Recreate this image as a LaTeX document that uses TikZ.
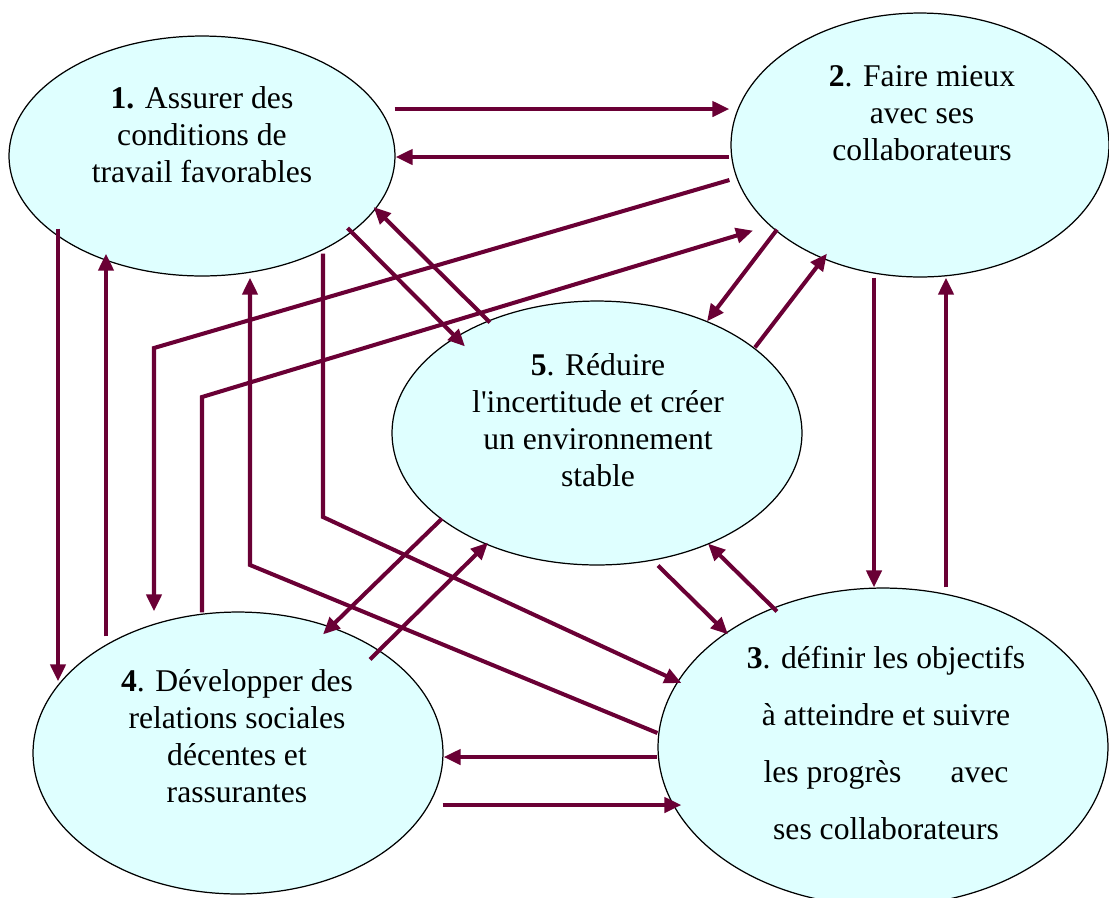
\documentclass[tikz,border=0pt]{standalone}
\usepackage{fontspec}
\setmainfont{Liberation Serif}
\usetikzlibrary{shapes.geometric,arrows.meta}
\definecolor{linkred}{RGB}{106,0,53}
\definecolor{cellfill}{RGB}{223,255,255}

\begin{document}
\begin{tikzpicture}[x=0.02cm,y=-0.02cm,
    ell/.style={ellipse,draw=black,line width=0.7pt,fill=cellfill,inner sep=0pt},
    txt/.style={align=center,font=\fontsize{18}{21}\selectfont},
    link/.style={draw=linkred,line width=2.3pt,-{Triangle[length=0.34cm,width=0.3cm]}}]
    \useasboundingbox (0,0) rectangle (1109,897);

    % draw the five ellipses
    \node[ell,minimum width=7.72cm,minimum height=4.8cm] (e1) at (202,156) {};
    \node[ell,minimum width=7.56cm,minimum height=5.28cm] (e2) at (920,145) {};
    \node[ell,minimum width=8.2cm,minimum height=5.28cm] (e5) at (597,433) {};
    \node[ell,minimum width=8.2cm,minimum height=5.64cm] (e4) at (238,753) {};
    \node[ell,minimum width=9cm,minimum height=6.36cm] (e3) at (883,747) {};

    % the texts sit a bit above the centres
    \node[txt] (t1) at ([shift={(0,-21)}]e1.center) {\textbf{1.} Assurer des\\conditions de\\travail favorables};
    \node[txt] (t2) at ([shift={(2,-32)}]e2.center) {\textbf{2}. Faire mieux\\avec ses\\collaborateurs};
    \node[txt] (t5) at ([shift={(1,-13)}]e5.center) {\textbf{5}. Réduire\\l\textquotesingle incertitude et créer\\un environnement\\stable};
    \node[txt] (t4) at ([shift={(-1,-17)}]e4.center) {\textbf{4}. Développer des\\relations sociales\\décentes et\\rassurantes};
    \node[txt,font=\fontsize{18}{32.5}\selectfont] (t3) at ([shift={(3,-4)}]e3.center)
        {\textbf{3}. définir les objectifs\\à atteindre et suivre\\les progrès\hspace{28pt}avec\\ses collaborateurs};

    % between 1 and 2
    \draw[link] ([shift={(-1,-47)}]e1.east) -- ([shift={(-1,-36)}]e2.west);
    \draw[link] ([shift={(-1,12)}]e2.west) -- ([shift={(0,1)}]e1.east);

    % left side, between 1 and 4
    \draw[link] ([shift={(-144,-48)}]e1.south) -- ([shift={(-180,70)}]e4.north);
    \draw[link] ([shift={(-132,25)}]e4.north) -- ([shift={(-96,-23)}]e1.south);

    % 2 and 4, round the left
    \draw[link] ([shift={(-1,35)}]e2.west) -- (154,348) -- ([shift={(-84,0)}]e4.north);
    \draw[link] ([shift={(-36,1)}]e4.north) -- (202,397) -- ([shift={(-167,-47)}]e2.south);

    % 1 and 3
    \draw[link] ([shift={(121,-23)}]e1.south) -- (323,517) -- ([shift={(24,-64)}]e3.west);
    \draw[link] ([shift={(0,-14)}]e3.west) -- (250,565) -- ([shift={(48,1)}]e1.south);

    % 1 and 5
    \draw[link] ([shift={(-48,72)}]e1.east) -- ([shift={(-132,46)}]e5.north);
    \draw[link] ([shift={(-107,22)}]e5.north) -- ([shift={(-22,51)}]e1.east);

    % 2 and 5
    \draw[link] ([shift={(-143,-48)}]e2.south) -- ([shift={(110,21)}]e5.north);
    \draw[link] ([shift={(158,47)}]e5.north) -- ([shift={(-93,-24)}]e2.south);

    % 2 and 3
    \draw[link] ([shift={(-46,0)}]e2.south) -- ([shift={(-9,0)}]e3.north);
    \draw[link] ([shift={(63,0)}]e3.north) -- ([shift={(26,0)}]e2.south);

    % 5 and 4
    \draw[link] ([shift={(-155,-47)}]e5.south) -- ([shift={(85,23)}]e4.north);
    \draw[link] ([shift={(132,48)}]e4.north) -- ([shift={(-109,-23)}]e5.south);

    % 5 and 3
    \draw[link] ([shift={(61,0)}]e5.south) -- ([shift={(-155,47)}]e3.north);
    \draw[link] ([shift={(-106,24)}]e3.north) -- ([shift={(111,-22)}]e5.south);

    % 3 and 4
    \draw[link] ([shift={(0,10)}]e3.west) -- ([shift={(0,4)}]e4.east);
    \draw[link] ([shift={(-1,52)}]e4.east) -- ([shift={(24,58)}]e3.west);
\end{tikzpicture}
\end{document}
